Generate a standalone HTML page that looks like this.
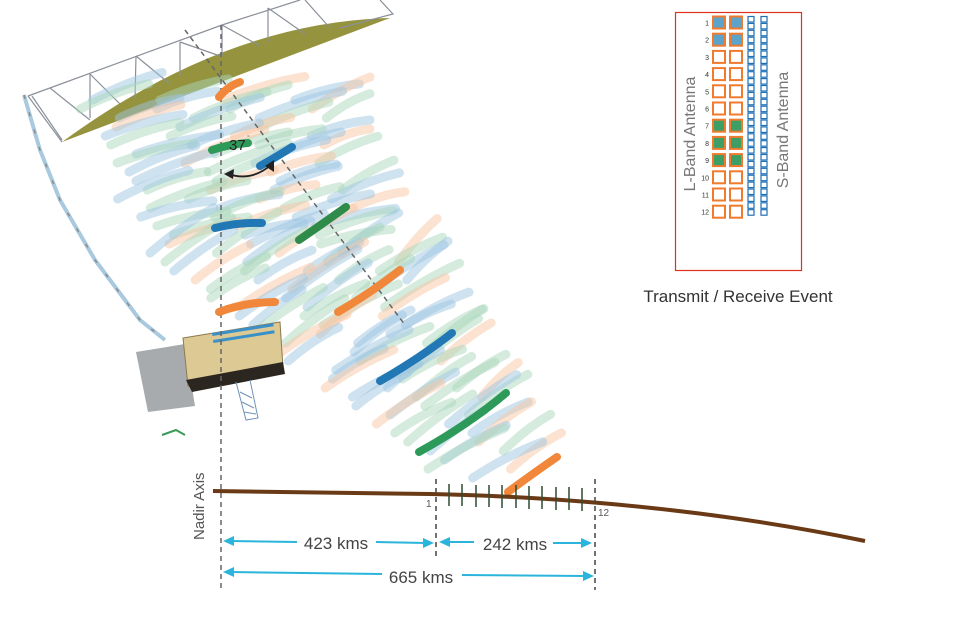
<!DOCTYPE html>
<html><head><meta charset="utf-8"><style>
html,body{margin:0;padding:0;background:#fff;width:960px;height:640px;overflow:hidden}
svg{display:block}
text{font-family:"Liberation Sans",sans-serif}
</style></head><body>
<svg id="s" width="960" height="640" viewBox="0 0 960 640" xmlns="http://www.w3.org/2000/svg">
<!-- antenna reflector -->
<path d="M62,142 Q226,22 390,18 L62,142 Z" fill="#8c8a2c" opacity="0.92"/>
<g stroke="#8a9099" stroke-width="1.2" fill="none">
<path d="M28,96 L222,25 L300,0"/>
<path d="M28,96 L62,142"/>
<path d="M32,96 L62,140 M50,88 L90,120 M90,74 L90,118 M90,74 L120,104 M136,56 L135,98 M136,56 L170,84 M180,42 L180,76 M180,42 L220,56 M222,25 L222,56 M222,25 L260,46 M268,8 L268,42 M268,8 L305,34 M305,0 L330,28 M380,0 L393,14 L340,28"/>
</g>
<g id="faint" stroke-linecap="round" fill="none" stroke-width="9"></g>
<!-- boom -->
<path d="M24,95 L40,150 L60,200 L95,260 L140,320 L165,340" fill="none" stroke="#a9c9de" stroke-width="4"/>
<path d="M24,95 L40,150 L60,200 L95,260 L140,320 L165,340" fill="none" stroke="#8a8a8a" stroke-width="1.5" stroke-dasharray="4 14"/>
<!-- satellite -->
<polygon points="136,352 185,344 195,406 148,412" fill="#a7abad"/>
<polygon points="183,338 280,322 283,368 188,386" fill="#dcc994" stroke="#8a7a50" stroke-width="1"/>
<polygon points="186,380 283,362 285,374 192,392" fill="#2b2620"/>
<g fill="#3a90c8"><rect x="212" y="333" width="62" height="3" transform="rotate(-9 212 333)"/><rect x="213" y="340" width="62" height="3" transform="rotate(-9 213 340)"/></g>
<g stroke="#6e93b8" stroke-width="1" fill="none"><path d="M236,382 L246,420 L258,418 L250,380 M240,392 L252,398 M242,402 L254,408 M244,412 L256,414"/></g>
<path d="M162,435 L176,430 L185,435" stroke="#3a9a5a" stroke-width="2" fill="none"/>
<!-- dashed axes -->
<line x1="221" y1="25" x2="221" y2="590" stroke="#666" stroke-width="1.5" stroke-dasharray="5 4"/>
<line x1="185" y1="30" x2="405" y2="325" stroke="#666" stroke-width="1.5" stroke-dasharray="5 4"/>
<!-- strong strokes -->
<g stroke-linecap="round" fill="none" stroke-width="8">
<path d="M219,97 Q228,86 240,82" stroke="#f0873a"/>
<path d="M212,150 Q230,144 248,143" stroke="#2e9a5a"/>
<path d="M260,166 Q278,156 292,147" stroke="#2277b5"/>
<path d="M215,228 Q238,222 262,223" stroke="#2277b5"/>
<path d="M299,240 Q325,222 346,207" stroke="#2e8b4a"/>
<path d="M219,312 Q245,302 275,302" stroke="#f0873a"/>
<path d="M338,312 Q372,292 400,270" stroke="#f0873a"/>
<path d="M380,381 Q420,358 452,333" stroke="#2277b5"/>
<path d="M419,452 Q468,425 506,393" stroke="#2e9a5a"/>
<path d="M508,492 Q535,472 557,457" stroke="#f0873a"/>
</g>
<text x="229" y="150" font-size="15" fill="#222">37</text><text x="247" y="140" font-size="7" fill="#777">°</text>
<path d="M228,174 Q252,182 272,164" fill="none" stroke="#222" stroke-width="1.8"/>
<polygon points="224,174 234,169 233,179" fill="#222"/>
<polygon points="274,160 274,172 265,166" fill="#222"/>
<!-- ground -->
<path d="M213,491 L430,494 Q520,496 600,503 Q740,515 865,541" fill="none" stroke="#6a3a16" stroke-width="4"/>
<g stroke="#2f4a30" stroke-width="1.5">
<line x1="449" y1="484" x2="449" y2="506"/><line x1="462" y1="484" x2="462" y2="506"/><line x1="476" y1="485" x2="476" y2="507"/><line x1="489" y1="485" x2="489" y2="507"/><line x1="502" y1="485" x2="502" y2="508"/><line x1="516" y1="485" x2="516" y2="508"/><line x1="529" y1="486" x2="529" y2="509"/><line x1="542" y1="486" x2="542" y2="509"/><line x1="556" y1="487" x2="556" y2="510"/><line x1="569" y1="487" x2="569" y2="510"/><line x1="582" y1="488" x2="582" y2="511"/>
</g>
<g stroke="#444" stroke-width="1.5" stroke-dasharray="5 4">
<line x1="436" y1="479" x2="436" y2="557"/><line x1="595" y1="479" x2="595" y2="590"/>
</g>
<text x="426" y="507" font-size="10" fill="#555">1</text>
<text x="598" y="516" font-size="10" fill="#555">12</text>
<text transform="translate(204,540) rotate(-90)" font-size="15" fill="#555">Nadir Axis</text>
<!-- dims -->
<g stroke="#2bb5dc" stroke-width="2">
<line x1="230" y1="541" x2="297" y2="542"/><line x1="376" y1="542" x2="426" y2="543"/>
<line x1="446" y1="542" x2="474" y2="542"/><line x1="553" y1="543" x2="584" y2="543"/>
<line x1="230" y1="572" x2="382" y2="574"/><line x1="462" y1="575" x2="586" y2="576"/>
</g>
<g fill="#2bb5dc">
<polygon points="223,541 234,536 234,546"/><polygon points="434,543 423,538 423,548"/>
<polygon points="439,542 450,537 450,547"/><polygon points="592,543 581,538 581,548"/>
<polygon points="223,572 234,567 234,577"/><polygon points="594,576 583,571 583,581"/>
</g>
<g font-size="17" fill="#444" text-anchor="middle">
<text x="336" y="549">423 kms</text><text x="515" y="550">242 kms</text><text x="421" y="583">665 kms</text>
</g>
<!-- legend -->
<rect x="675.5" y="12.5" width="126" height="258" fill="none" stroke="#e0301e" stroke-width="1.2"/>
<g id="leg"></g>
<text transform="translate(695,134) rotate(-90)" font-size="16" fill="#777" text-anchor="middle">L-Band Antenna</text>
<text transform="translate(788,130) rotate(-90)" font-size="16" fill="#777" text-anchor="middle">S-Band Antenna</text>
<text x="738" y="302" font-size="17" fill="#333" text-anchor="middle">Transmit / Receive Event</text>
</svg>
<script>
var NS="http://www.w3.org/2000/svg";
var g=document.getElementById('faint');
var cols=["#9ec5e2","#a9d8bc","#f8c6a3","#9ec5e2","#a9d8bc"];
var seed=7;function rnd(){seed=(seed*9301+49297)%233280;return seed/233280;}
function L(y){return y<250?92+(y-120)*0.45:150+(y-250)*1.3;}
function R(y){return y<150?370:370+(y-150)*0.6;}
var k=0;
for(var y=100;y<=480;y+=9){
 var l=L(y),r=R(y),off=(rnd()*40);
 for(var x=l+off-10;x<r-35;x+=62+rnd()*22){
  var len=58+rnd()*30, ang=(y<250?-0.3:-0.55)+(rnd()-0.5)*0.2;
  var x2=x+len*Math.cos(ang),y2=y+len*Math.sin(ang);
  if(x2>r){x2=r;}
  var p=document.createElementNS(NS,'path');
  var mx=(x+x2)/2,my=(y+y2)/2-5;
  p.setAttribute('d','M'+x+','+y+' Q'+mx+','+my+' '+x2+','+y2);
  p.setAttribute('stroke',cols[(k++)%5]);p.setAttribute('opacity','0.5');
  g.appendChild(p);
 }
}
var lg=document.getElementById('leg');
function rect(x,y,w,h,f,s,sw){var e=document.createElementNS(NS,'rect');e.setAttribute('x',x);e.setAttribute('y',y);e.setAttribute('width',w);e.setAttribute('height',h);e.setAttribute('fill',f);e.setAttribute('stroke',s);e.setAttribute('stroke-width',sw);lg.appendChild(e);}
for(var i=0;i<12;i++){
 var yy=16.5+i*17.2, f=i<2?"#5ba3c9":(i>=6&&i<=8?"#3d9f66":"#fff");
 rect(713,yy,12,12,f,"#f07a2e",2);rect(730,yy,12,12,f,"#f07a2e",2);
 var t=document.createElementNS(NS,'text');t.setAttribute('x',709);t.setAttribute('y',yy+9);t.setAttribute('font-size','7');t.setAttribute('fill','#333');t.setAttribute('text-anchor','end');t.textContent=i+1;lg.appendChild(t);
}
for(var j=0;j<29;j++){var yy=16.5+j*6.9;rect(748,yy,6,5.5,"#fff","#1f6fb5",1.2);rect(761,yy,6,5.5,"#fff","#1f6fb5",1.2);}
</script>
</body></html>
